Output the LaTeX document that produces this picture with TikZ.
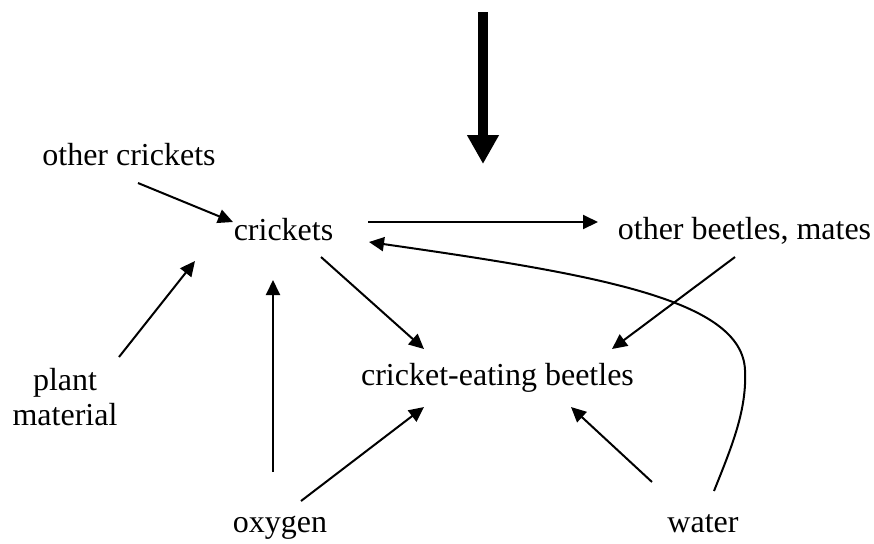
\documentclass[tikz,border=0pt]{standalone}
\usepackage{fontspec}
\setmainfont{Liberation Serif}
\usetikzlibrary{arrows.meta, calc}

\tikzset{
	lbl/.style = {inner sep=0pt, anchor=base, font=\fontsize{16}{17.5}\selectfont},
	arr/.style = {line width=1pt, -{Triangle[length=7.5pt,width=7pt]}},
	bigarr/.style = {line width=4.75pt, -{Triangle[length=14.5pt,width=15pt]}}
}

\begin{document}
\begin{tikzpicture}[x=0.5pt, y=-0.5pt]
	    \useasboundingbox (0,0) rectangle (874,543);
	    \node[lbl] (oc) at (129,165) {other crickets};
	    \node[lbl] (cr) at (283.5,240) {crickets};
	    \node[lbl] (ob) at (744.5,239) {other beetles, mates};
	    \node[lbl] (ce) at (497.5,385) {cricket-eating beetles};
	    \node[lbl, anchor=center, align=center] (pm) at (65,397) {plant\\material};
	    \node[lbl] (ox) at (280,532) {oxygen};
	    \node[lbl] (wa) at (703,532) {water};
	    \coordinate (top) at (483,12);
	    \coordinate (tip) at (483,164);
	    \coordinate (bend) at (745,370);
	    \draw[bigarr] (top) -- (tip);
	    \draw[arr] ($(oc.base)+(9,18)$) -- ($(cr.base)+(-50.5,-18)$);
	    \draw[arr] ($(cr.base)+(84.5,-18)$) -- ($(ob.base)+(-146.5,-17)$);
	    \draw[arr] ($(cr.base)+(37.5,17)$) -- ($(ce.base)+(-73.5,-36)$);
	    \draw[arr] ($(ob.base)+(-9.5,18)$) -- ($(ce.base)+(114.5,-36)$);
	    \draw[arr] ($(pm.center)+(54,-40)$) -- ($(cr.base)+(-88.5,21)$);
	    \draw[arr] ($(ox.base)+(-7,-60)$) -- ($(cr.base)+(-10.5,40)$);
	    \draw[arr] ($(ox.base)+(21,-31)$) -- ($(ce.base)+(-73.5,22)$);
	    \draw[arr] ($(wa.base)+(-51,-50)$) -- ($(ce.base)+(73.5,22)$);
	    \draw[arr] ($(wa.base)+(11,-41)$) .. controls (732,446) and (747,410) .. (bend)
	        .. controls (742,300) and (600,275) .. ($(cr.base)+(85.5,2)$);
	\end{tikzpicture}
\end{document}
